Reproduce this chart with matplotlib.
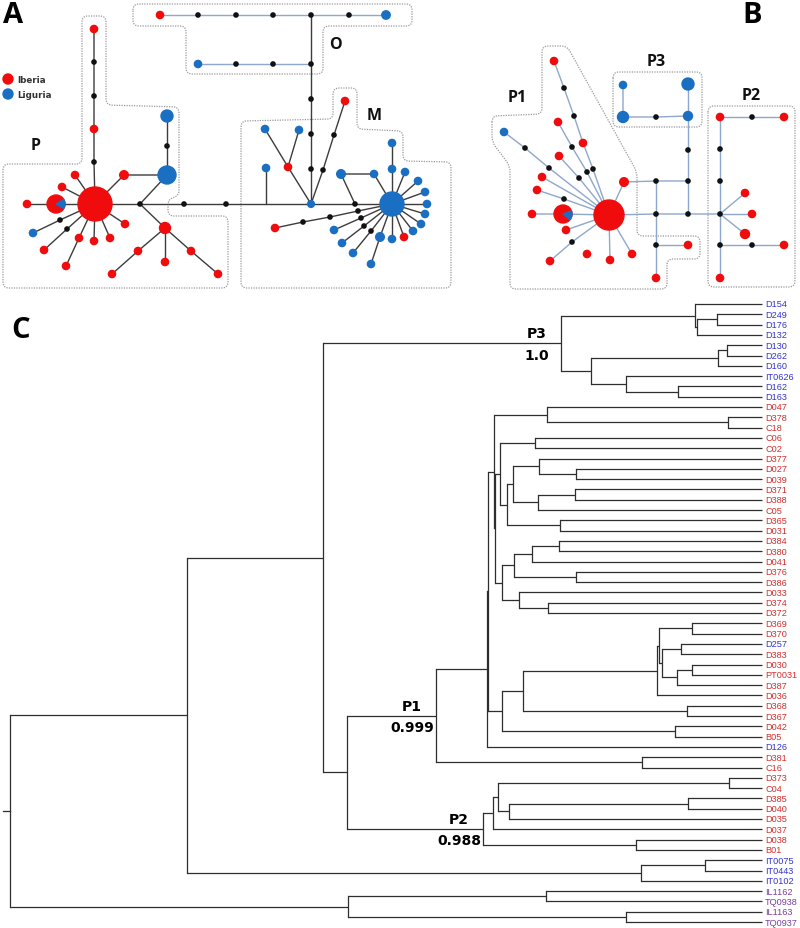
import numpy as np
import matplotlib.pyplot as plt
from matplotlib.patches import Circle, Wedge, PathPatch
from matplotlib.path import Path

plt.rcParams['font.family'] = ['DejaVu Sans']

RED, BLUE, DOT = '#f00c0c', '#1a6fc2', '#111111'
DARK_EDGE, LIGHT_EDGE = '#3c3c3c', '#8ea7cc'
TIP_COLORS = {'I': '#d42e2e', 'L': '#3434cc', 'O': '#7a3f9c'}

# ---------------------------------------------------------------
# Haplotype network A: name -> (x, y, origin, radius)
# origin: I = Iberia, L = Liguria, k = median vector, pie = mixed
# ---------------------------------------------------------------
A_NODES = {
    'o1': (160, 16, 'I', 3.6), 'o2': (198, 16, 'k', 0), 'o3': (236, 16, 'k', 0),
    'o4': (273, 16, 'k', 0), 'o5': (311, 16, 'k', 0), 'o6': (349, 16, 'k', 0),
    'o7': (386, 16, 'L', 4.2), 'o8': (198, 65, 'L', 3.6), 'o9': (236, 65, 'k', 0),
    'o10': (273, 65, 'k', 0), 'o11': (311, 65, 'k', 0), 'o12': (311, 100, 'k', 0),
    'o13': (311, 135, 'k', 0), 'o14': (311, 170, 'k', 0), 'm0': (311, 205, 'L', 3.4),
    'pc': (95, 205, 'I', 17), 'p1': (94, 163, 'k', 0), 'p2': (94, 130, 'I', 3.6),
    'p3': (94, 97, 'k', 0), 'p4': (94, 63, 'k', 0), 'p5': (94, 30, 'I', 3.6),
    'pie': (56, 205, 'pie', 9), 'p6': (27, 205, 'I', 3.6), 'p7': (75, 176, 'I', 3.6),
    'p8': (62, 188, 'I', 3.6), 'p9': (124, 176, 'I', 4.3), 'pb1': (167, 176, 'L', 9),
    'pb2': (167, 147, 'k', 0), 'pb3': (167, 117, 'L', 6), 'pk': (140, 205, 'k', 0),
    'pr': (165, 229, 'I', 5.5), 'pr1': (138, 252, 'I', 3.6), 'pr2': (112, 275, 'I', 3.6),
    'pr3': (165, 263, 'I', 3.6), 'pr4': (191, 252, 'I', 3.6), 'pr5': (218, 275, 'I', 3.6),
    'pd1': (125, 225, 'I', 3.6), 'pd2': (110, 239, 'I', 3.6), 'pd3': (94, 242, 'I', 3.6),
    'pd4': (79, 239, 'I', 3.6), 'pd5': (66, 267, 'I', 3.6), 'pk1': (60, 221, 'k', 0),
    'pl1': (33, 234, 'L', 3.6), 'pk2': (67, 230, 'k', 0), 'pd6': (44, 251, 'I', 3.6),
    'ck1': (184, 205, 'k', 0), 'ck2': (226, 205, 'k', 0), 'mv': (266, 205, '-', 0),
    'mv1': (266, 169, 'L', 3.6), 'mr': (288, 168, 'I', 3.6), 'mb1': (265, 130, 'L', 3.6),
    'mb2': (299, 131, 'L', 3.6), 'mk1': (323, 171, 'k', 0), 'mk2': (334, 136, 'k', 0),
    'mr2': (345, 102, 'I', 3.6), 'mk': (355, 205, 'k', 0), 'mB': (392, 205, 'L', 12),
    'ma': (341, 175, 'L', 4.3), 'mb': (374, 175, 'L', 3.6),
    's1': (392, 144, 'L', 3.6), 's2': (392, 170, 'L', 3.6), 's3': (405, 173, 'L', 3.6),
    's4': (418, 182, 'L', 3.6), 's5': (425, 193, 'L', 3.6), 's6': (427, 205, 'L', 3.6),
    's7': (425, 215, 'L', 3.6), 's8': (421, 225, 'L', 3.6), 's9': (413, 232, 'L', 3.6),
    's10': (404, 238, 'I', 3.6), 's11': (392, 240, 'L', 3.6), 's12': (380, 238, 'L', 4.3),
    's13': (371, 265, 'L', 3.6), 'mk3': (358, 212, 'k', 0), 'mk4': (330, 218, 'k', 0),
    'mk5': (303, 223, 'k', 0), 'mr3': (275, 229, 'I', 3.6), 'mk6': (361, 219, 'k', 0),
    'ml1': (334, 231, 'L', 3.6), 'mk7': (364, 227, 'k', 0), 'ml2': (342, 244, 'L', 3.6),
    'mk8': (371, 232, 'k', 0), 'ml3': (353, 254, 'L', 3.6),
}
A_LIGHT_PATHS = [['o1', 'o2', 'o3', 'o4', 'o5', 'o6', 'o7'], ['o8', 'o9', 'o10', 'o11']]
A_DARK_PATHS = [
    ['o5', 'o11', 'o12', 'o13', 'o14', 'm0'],
    ['p5', 'p4', 'p3', 'p2', 'p1', 'pc'], ['p6', 'pie', 'pc'], ['pc', 'p7'], ['pc', 'p8'],
    ['pc', 'p9', 'pb1'], ['pb3', 'pb2', 'pb1'], ['pb1', 'pk'],
    ['pc', 'pk', 'ck1', 'ck2', 'mv', 'm0'], ['pk', 'pr'], ['pr', 'pr1', 'pr2'], ['pr', 'pr3'],
    ['pr', 'pr4', 'pr5'], ['pc', 'pd1'], ['pc', 'pd2'], ['pc', 'pd3'], ['pc', 'pd4', 'pd5'],
    ['pc', 'pk1', 'pl1'], ['pc', 'pk2', 'pd6'], ['mv', 'mv1'],
    ['m0', 'mr', 'mb1'], ['mr', 'mb2'], ['m0', 'mk1', 'mk2', 'mr2'], ['m0', 'mk', 'mB'],
    ['mk', 'ma', 'mb', 'mB'], ['mB', 's2', 's1'], ['mB', 's3'], ['mB', 's4'], ['mB', 's5'],
    ['mB', 's6'], ['mB', 's7'], ['mB', 's8'], ['mB', 's9'], ['mB', 's10'], ['mB', 's11'],
    ['mB', 's12', 's13'], ['mB', 'mk3', 'mk4', 'mk5', 'mr3'], ['mB', 'mk6', 'ml1'],
    ['mB', 'mk7', 'ml2'], ['mB', 'mk8', 'ml3'],
]
A_OUTLINES = [
    [(133, 5), (412, 5), (412, 27), (323, 27), (323, 75), (186, 75), (186, 27), (133, 27)],
    [(3, 165), (82, 165), (82, 17), (106, 17), (106, 106), (179, 108), (179, 197), (168, 200),
     (168, 217), (228, 217), (228, 289), (3, 289)],
    [(241, 122), (333, 120), (333, 89), (357, 89), (357, 130), (403, 132), (403, 162),
     (451, 163), (451, 289), (241, 289)],
]
A_GROUPS = [('P', 36, 146), ('O', 335, 45), ('M', 374, 116)]

# ---------------------------------------------------------------
# Haplotype network B
# ---------------------------------------------------------------
B_NODES = {
    'bc': (609, 216, 'I', 15), 'bp': (563, 215, 'pie', 9), 'b1': (532, 215, 'I', 3.6),
    'bk1': (593, 170, 'k', 0), 'br3': (583, 144, 'I', 3.6), 'bk2': (574, 117, 'k', 0),
    'bk3': (564, 89, 'k', 0), 'br1': (554, 62, 'I', 3.6),
    'bk4': (587, 173, 'k', 0), 'bk5': (572, 148, 'k', 0), 'br2': (558, 123, 'I', 3.6),
    'bk6': (579, 179, 'k', 0), 'br4': (559, 157, 'I', 3.6),
    'bk7': (549, 169, 'k', 0), 'bk8': (525, 149, 'k', 0), 'bl1': (504, 133, 'L', 3.6),
    'br5': (542, 178, 'I', 3.6), 'bk9': (564, 200, 'k', 0), 'br6': (537, 191, 'I', 3.6),
    'br7': (566, 231, 'I', 3.6), 'bk10': (572, 243, 'k', 0), 'br8': (550, 262, 'I', 3.6),
    'br9': (587, 255, 'I', 3.6), 'br10': (610, 261, 'I', 3.6), 'br11': (632, 255, 'I', 3.6),
    'br12': (624, 183, 'I', 4.3), 'bk11': (656, 182, 'k', 0), 'bk12': (688, 182, 'k', 0),
    'bk13': (656, 215, 'k', 0), 'bk14': (688, 215, 'k', 0), 'bk15': (720, 215, 'k', 0),
    'bk16': (656, 246, 'k', 0), 'br13': (656, 279, 'I', 3.6), 'br14': (688, 246, 'I', 3.6),
    'bl2': (623, 86, 'L', 3.6), 'bl3': (623, 118, 'L', 5.5), 'bk17': (656, 118, 'k', 0),
    'bl4': (688, 117, 'L', 4.5), 'bl5': (688, 85, 'L', 6), 'bk18': (688, 151, 'k', 0),
    'br15': (720, 118, 'I', 3.6), 'bk19': (752, 118, 'k', 0), 'br16': (784, 118, 'I', 3.6),
    'bk20': (720, 150, 'k', 0), 'bk21': (720, 182, 'k', 0), 'bk22': (720, 246, 'k', 0),
    'br17': (720, 279, 'I', 3.6), 'br18': (745, 194, 'I', 3.6), 'br19': (752, 215, 'I', 3.6),
    'br20': (745, 235, 'I', 4.5), 'bk23': (752, 246, 'k', 0), 'br21': (784, 246, 'I', 3.6),
}
B_PATHS = [
    ['bc', 'bk1', 'br3', 'bk2', 'bk3', 'br1'], ['bc', 'bk4', 'bk5', 'br2'], ['bc', 'bk6', 'br4'],
    ['bc', 'bk7', 'bk8', 'bl1'], ['bc', 'br5'], ['bc', 'bk9', 'br6'], ['b1', 'bp', 'bc'],
    ['bc', 'br7'], ['bc', 'bk10', 'br8'], ['bc', 'br10'], ['bc', 'br11'], ['bc', 'br12'],
    ['br12', 'bk11', 'bk12'], ['bc', 'bk13', 'bk14', 'bk15'], ['bk11', 'bk13', 'bk16', 'br13'],
    ['bk16', 'br14'], ['bl2', 'bl3', 'bk17', 'bl4'], ['bl5', 'bl4', 'bk18', 'bk12', 'bk14'],
    ['br15', 'bk19', 'br16'], ['br15', 'bk20', 'bk21', 'bk15', 'bk22', 'br17'],
    ['bk15', 'br18'], ['bk15', 'br19'], ['bk15', 'br20'], ['bk22', 'bk23', 'br21'],
]
B_OUTLINES = [
    [(492, 117), (542, 115), (542, 47), (567, 47), (637, 173), (637, 237), (700, 237),
     (700, 260), (667, 260), (667, 290), (510, 290), (510, 167), (492, 143)],
    [(613, 73), (702, 73), (702, 128), (613, 128)],
    [(708, 107), (795, 107), (795, 288), (708, 288)],
]
B_GROUPS = [('P1', 517, 98), ('P3', 656, 62), ('P2', 751, 96)]

# ---------------------------------------------------------------
# Tree C: internal node = (x position, [children], optional (clade, support))
# ---------------------------------------------------------------
TREE = (10, [
    (187, [
        (323, [
            (561, [
                (695, ['D154', (697, [(717, ['D249', 'D176']), 'D132'])]),
                (591, [
                    (718, [(727, ['D130', 'D262']), 'D160']),
                    (626, ['IT0626', (678, ['D162', 'D163'])]),
                ]),
            ], ('P3', '1.0')),
            (347, [
                (436, [
                    (487, [
                        (488, [
                            (494, [
                                (547, ['D047', (728, ['D378', 'C18'])]),
                                (495, [
                                    (500, [
                                        (535, ['C06', 'C02']),
                                        (507, [
                                            (513, [
                                                (539, ['D377', (576, ['D027', 'D039'])]),
                                                (538, [(575, ['D371', 'D388']), 'C05']),
                                            ]),
                                            (560, ['D365', 'D031']),
                                        ]),
                                    ]),
                                    (502, [
                                        (514, [
                                            (532, [(559, ['D384', 'D380']), 'D041']),
                                            (576, ['D376', 'D386']),
                                        ]),
                                        (519, ['D033', (548, ['D374', 'D372'])]),
                                    ]),
                                ]),
                            ]),
                            (502, [
                                (523, [
                                    (657, [
                                        (659, [
                                            (692, ['D369', 'D370']),
                                            (662, [(681, ['D257', 'D383']),
                                                   (677, [(692, ['D030', 'PT0031']), 'D387'])]),
                                        ]),
                                        'D036',
                                    ]),
                                    (687, ['D368', 'D367']),
                                ]),
                                (675, ['D042', 'B05']),
                            ]),
                        ]),
                        'D126',
                    ]),
                    (642, ['D381', 'C16']),
                ], ('P1', '0.999')),
                (483, [
                    (493, [
                        (498, [(729, ['D373', 'C04']), (509, [(688, ['D385', 'D040']), 'D035'])]),
                        'D037',
                    ]),
                    (636, ['D038', 'B01']),
                ], ('P2', '0.988')),
            ]),
        ]),
        (641, [(705, ['IT0075', 'IT0443']), 'IT0102']),
    ]),
    (348, [(546, ['IL1162', 'TQ0938']), (626, ['IL1163', 'TQ0937'])]),
])
LIGURIA_TIPS = ['D154', 'D249', 'D176', 'D132', 'D130', 'D262', 'D160', 'IT0626', 'D162',
                'D163', 'D257', 'D126', 'IT0075', 'IT0443', 'IT0102']
OUTGROUP_TIPS = ['IL1162', 'TQ0938', 'IL1163', 'TQ0937']
TIP_X = 762

# ---------------------------------------------------------------
fig = plt.figure(figsize=(8, 9.29), dpi=100)
ax = fig.add_axes([0, 0, 1, 1])
ax.set_xlim(0, 800)
ax.set_ylim(929, 0)
ax.axis('off')


def rounded(pts, r=6):
    verts, codes = [], []
    n = len(pts)
    for i in range(n):
        p0, p1, p2 = (np.array(pts[j], float) for j in (i - 1, i, (i + 1) % n))
        d0, d2 = p0 - p1, p2 - p1
        l0, l2 = np.hypot(*d0), np.hypot(*d2)
        rr = min(r, l0 / 2, l2 / 2)
        a, b = p1 + d0 / l0 * rr, p1 + d2 / l2 * rr
        verts += [a, p1, b]
        codes += [Path.MOVETO if i == 0 else Path.LINETO, Path.CURVE3, Path.CURVE3]
    verts.append(verts[0])
    codes.append(Path.CLOSEPOLY)
    return Path(verts, codes)


def draw_network(nodes, path_sets, outlines, pie_wedge):
    for poly in outlines:
        ax.add_patch(PathPatch(rounded(poly), fill=False, ec='#9a9a9a', lw=0.9,
                               ls=(0, (1, 1)), zorder=0))
    for paths, col in path_sets:
        for p in paths:
            xs = [nodes[n][0] for n in p]
            ys = [nodes[n][1] for n in p]
            ax.plot(xs, ys, color=col, lw=1.0, zorder=1, solid_capstyle='round')
    for x, y, kind, r in nodes.values():
        if kind == 'k':
            ax.add_patch(Circle((x, y), 2.1, color=DOT, zorder=3))
        elif kind == 'I':
            ax.add_patch(Circle((x, y), r, color=RED, zorder=3))
        elif kind == 'L':
            ax.add_patch(Circle((x, y), r, color=BLUE, zorder=3))
        elif kind == 'pie':
            ax.add_patch(Circle((x, y), r, color=RED, zorder=3))
            ax.add_patch(Wedge((x, y), r, *pie_wedge, color=BLUE, zorder=4))


draw_network(A_NODES, [(A_LIGHT_PATHS, LIGHT_EDGE), (A_DARK_PATHS, DARK_EDGE)], A_OUTLINES, (-30, 30))
draw_network(B_NODES, [(B_PATHS, LIGHT_EDGE)], B_OUTLINES, (-20, 40))

for name, x, y in A_GROUPS + B_GROUPS:
    ax.text(x, y, name, fontsize=11.5, fontweight='bold', ha='center', va='center',
            family='Open Sans', color='#111111')

# legend of network A
for lab, col, y in [('Iberia', RED, 80), ('Liguria', BLUE, 95)]:
    ax.add_patch(Circle((8, y), 5, color=col, zorder=3))
    ax.text(17, y, lab, fontsize=6.3, fontweight='bold', va='center', ha='left', color='#333333')

for letter, x, y in [('A', 13, 15), ('B', 752, 15), ('C', 21, 330)]:
    ax.text(x, y, letter, fontsize=21, fontweight='bold', ha='center', va='center',
            family='Open Sans', color='black')

# ---------------------------------------------------------------
# tree C in its own axes: x in drawing units, y in tip rank
# ---------------------------------------------------------------
step, top_px = 10.3, 305
axc = fig.add_axes([0, 0, 1, (929 - 290) / 929])
axc.set_xlim(0, 800)
axc.set_ylim(1 + (929 - top_px) / step, 1 - (top_px - 290) / step)
axc.axis('off')

tips = []
LC = '#2e2e2e'


def layout(node):
    if isinstance(node, str):
        tips.append(node)
        return TIP_X, float(len(tips))
    x, children = node[0], node[1]
    pos = [layout(c) for c in children]
    ys = [p[1] for p in pos]
    for cx, cy in pos:
        axc.plot([x, cx], [cy, cy], color=LC, lw=0.9, solid_capstyle='butt')
    axc.plot([x, x], [min(ys), max(ys)], color=LC, lw=0.9, solid_capstyle='projecting')
    y = (min(ys) + max(ys)) / 2
    if len(node) > 2:
        clade, support = node[2]
        axc.text(x - 24, y - 0.95, clade, fontsize=10, fontweight='bold', ha='center', va='center')
        axc.text(x - 24, y + 1.1, support, fontsize=10, fontweight='bold', ha='center', va='center')
    return x, y


root_x, root_y = layout(TREE)
axc.plot([3, root_x], [root_y, root_y], color=LC, lw=0.9)

for i, lab in enumerate(tips, start=1):
    grp = 'L' if lab in LIGURIA_TIPS else ('O' if lab in OUTGROUP_TIPS else 'I')
    axc.text(TIP_X + 3, i, lab, fontsize=6.6, family='Liberation Sans', color=TIP_COLORS[grp],
             ha='left', va='center')

fig.savefig('out.png', dpi=100)
